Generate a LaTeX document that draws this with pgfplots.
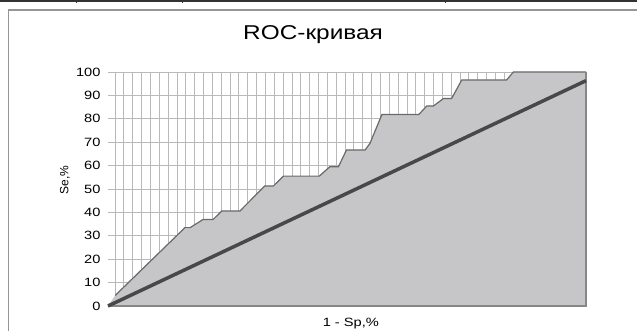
\documentclass[border=0pt]{standalone}
\usepackage{pgfplots}
\pgfplotsset{compat=1.18}
\usepackage{fontspec}
\setmainfont{Liberation Sans}[FakeStretch=1.22]
\newfontfamily\plainfont{Liberation Sans}
\definecolor{areagray}{RGB}{198,198,200}
\definecolor{curvecol}{RGB}{105,105,105}
\definecolor{diagcol}{RGB}{72,72,72}
\definecolor{edgecol}{RGB}{135,135,135}
\definecolor{gridcol}{RGB}{185,185,185}
\definecolor{framecol}{RGB}{150,150,150}
\begin{document}
\begin{tikzpicture}[x=1pt,y=1pt]
\path[use as bounding box] (0,0) rectangle (637,-331);
\draw[line width=1.7pt, color=black!80] (0,-0.85) -- (637,-0.85);
\foreach \xx in {76,182,445} \draw[line width=1pt,black!80] (\xx,0) -- (\xx,-3);
\draw[line width=1.2pt, framecol] (8.7,-335) -- (8.7,-10) -- (640,-10);
\begin{axis}[
  at={(108pt,-306pt)}, anchor=south west,
  scale only axis, width=478pt, height=234pt,
  xmin=0, xmax=100, ymin=0, ymax=100,
  axis line style={draw=none},
  major tick length=0pt,
  clip=false,
  xtick={1.46,3.311,...,100},
  xticklabel=\empty,
  ytick={0,10,...,100},
  xmajorgrids, ymajorgrids,
  grid style={gridcol, line width=0.8pt},
  /pgf/number format/assume math mode=true,
  yticklabel style={font=\fontsize{12}{14}\selectfont, xshift=-4pt},
  title={ROC-кривая},
  title style={font=\fontsize{20}{24}\selectfont, at={(axis description cs:0.429,1.115)}, anchor=base},
  xlabel={1 - Sp,\%},
  xlabel style={font=\fontsize{12}{14}\selectfont, at={(axis description cs:0.508,-0.0897)}, anchor=base},
  ylabel={Se,\%},
  ylabel style={font=\plainfont\fontsize{12}{14}\selectfont, at={(axis description cs:-0.09,0.538)}, anchor=center, rotate=0},
]
\addplot[fill=areagray, draw=none] coordinates {
(0,0) (1.5,4.5) (16.1,33.5) (17.2,33.5) (19.9,37) (22,37) (23.8,40.6) (27.6,40.6)
(32.8,51.3) (34.6,51.3) (36.7,55.5) (44.2,55.5) (46.4,59.5) (48.2,59.5) (49.9,66.7)
(53.8,66.7) (54.8,69.5) (57.3,81.8) (65,81.8) (66.7,85.5) (68.1,85.5) (70.2,88.7)
(71.9,88.7) (74,96.6) (83.4,96.6) (84.8,100) (100,100)
} \closedcycle;
\addplot[curvecol, line width=1.2pt] coordinates {
(1.5,4.5) (16.1,33.5) (17.2,33.5) (19.9,37) (22,37) (23.8,40.6) (27.6,40.6)
(32.8,51.3) (34.6,51.3) (36.7,55.5) (44.2,55.5) (46.4,59.5) (48.2,59.5) (49.9,66.7)
(53.8,66.7) (54.8,69.5) (57.3,81.8) (65,81.8) (66.7,85.5) (68.1,85.5) (70.2,88.7)
(71.9,88.7) (74,96.6) (83.4,96.6) (84.8,100) (100,100)
};
\addplot[edgecol, line width=2pt] coordinates {(0,0) (100,0) (100,100)};
\addplot[diagcol, line width=3.5pt] coordinates {(0,0) (100,96.3)};
\end{axis}
\end{tikzpicture}
\end{document}
